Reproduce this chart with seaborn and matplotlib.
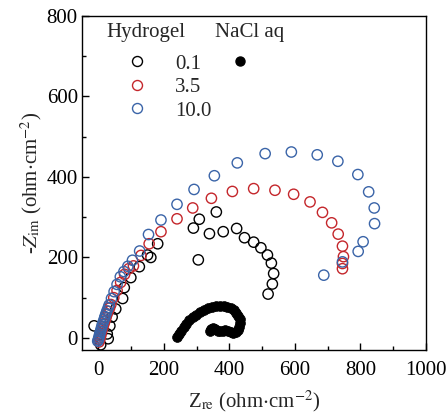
import numpy as np
import seaborn as sns
import matplotlib.pyplot as plt
from matplotlib.ticker import MultipleLocator
from matplotlib.lines import Line2D

# Nyquist data (ohm.cm^-2)
gel01_re = [-13, 7, 30, 27, 35, 42, 53, 74, 79, 99, 125, 150, 160, 181, 290, 308, 360,
            305, 339, 381, 422, 446, 474, 496, 516, 528, 535, 531, 518]
gel01_im = [30, -17, -2, 10, 30, 52, 72, 98, 125, 150, 177, 206, 200, 234, 273, 295, 313,
            194, 259, 264, 272, 249, 238, 224, 206, 186, 160, 134, 109]

gel35_re = [2, 4, 5, 7, 8, 10, 12, 14, 17, 20, 23, 26, 30, 34, 38, 47, 57, 68, 80, 93, 107,
            130, 155, 191, 240, 288, 345, 409, 474, 539, 596, 646, 684, 712, 732, 745, 748,
            745, 745]
gel35_im = [-10, -4, 0, 5, 10, 16, 22, 28, 35, 42, 50, 58, 66, 74, 83, 100, 118, 138, 158, 172, 179,
            205, 234, 264, 296, 323, 347, 364, 371, 367, 357, 338, 312, 286, 258, 228, 202,
            185, 172]

gel10_re = [-2, 0, 1, 3, 4, 6, 8, 10, 12, 15, 18, 20, 23, 26, 30, 33, 40, 48, 57, 67, 78, 90,
            104, 126, 153, 191, 240, 292, 354, 424, 509, 589, 668, 731, 792, 825, 842, 843,
            808, 793, 745, 688]
gel10_im = [-8, -5, 0, 5, 10, 15, 21, 27, 33, 40, 47, 53, 60, 67, 75, 82, 98, 115, 133, 152, 165, 178,
            193, 216, 257, 293, 332, 369, 403, 435, 458, 462, 455, 439, 406, 363, 323, 284,
            239, 215, 189, 156]

nacl_re = [240, 245, 252, 260, 268, 278, 288, 298, 310, 322, 334, 346, 358, 370, 382, 394, 404,
           413, 421, 427, 431, 432, 430, 426, 420, 412, 404, 396, 388, 380, 372, 364, 356, 350,
           344, 340]
nacl_im = [3, 10, 18, 27, 35, 44, 52, 58, 64, 70, 74, 77, 79, 80, 80, 78, 75,
           70, 63, 55, 46, 37, 28, 20, 15, 13, 15, 18, 20, 18, 17, 18, 21, 24,
           21, 18]

colors = {"0.1": "black", "3.5": "#C4262B", "10.0": "#3A64A8"}

sns.set_style("ticks")
plt.rcParams["font.family"] = ["Liberation Serif", "DejaVu Serif"]
plt.rcParams["mathtext.fontset"] = "stix"

fig = plt.figure(figsize=(4.46, 4.17), dpi=100)
ax = fig.add_axes([82 / 446, 1 - 350 / 417, 344 / 446, 334 / 417])

for lab, xs, ys in [("0.1", gel01_re, gel01_im), ("3.5", gel35_re, gel35_im),
                    ("10.0", gel10_re, gel10_im)]:
    sns.scatterplot(x=xs, y=ys, ax=ax, s=55, facecolor="none",
                    edgecolor=colors[lab], linewidth=1.0, legend=False)

sns.scatterplot(x=nacl_re, y=nacl_im, ax=ax, s=50, color="black",
                edgecolor="black", linewidth=0.5, legend=False)

ax.set_xlim(-50, 1000)
ax.set_ylim(-30, 800)
ax.xaxis.set_major_locator(MultipleLocator(200))
ax.xaxis.set_minor_locator(MultipleLocator(100))
ax.yaxis.set_major_locator(MultipleLocator(200))
ax.yaxis.set_minor_locator(MultipleLocator(100))
ax.tick_params(which="both", direction="in", labelsize=15, width=1, colors="black")
ax.tick_params(which="major", length=5)
ax.tick_params(which="minor", length=3)
ax.tick_params(axis="x", pad=8)
ax.tick_params(axis="y", pad=3)
for sp in ax.spines.values():
    sp.set_linewidth(1.0)
    sp.set_color("black")

ax.set_xlabel(r"Z$_{\mathrm{re}}$ (ohm$\cdot$cm$^{-2}$)", fontsize=15, labelpad=6)
ax.set_ylabel(r"-$\mathit{Z}_{\mathrm{im}}$ (ohm$\cdot$cm$^{-2}$)", fontsize=15, labelpad=2)

# legend headers
ax.text((106 - 82) / 344, (350 - 33) / 334, "Hydrogel", transform=ax.transAxes,
        fontsize=15, ha="left", va="center")
ax.text((215 - 82) / 344, (350 - 33) / 334, "NaCl aq", transform=ax.transAxes,
        fontsize=15, ha="left", va="center")

h_gel = [Line2D([], [], ls="none", marker="o", ms=7.2, mfc="none", mec=colors[k], mew=1.0)
         for k in ["0.1", "3.5", "10.0"]]
leg1 = ax.legend(h_gel, ["0.1", "3.5", "10.0"], loc="upper left",
                 bbox_to_anchor=((121 - 82) / 344, (350 - 54) / 334), frameon=False,
                 fontsize=15, borderpad=0, borderaxespad=0,
                 handlelength=1.5, handletextpad=1.1, labelspacing=0.19)
ax.add_artist(leg1)
h_nacl = [Line2D([], [], ls="none", marker="o", ms=6.5, mfc="black", mec="black")]
ax.legend(h_nacl, [""], loc="upper left",
          bbox_to_anchor=((224 - 82) / 344, (350 - 54) / 334), frameon=False,
          fontsize=15, borderpad=0, borderaxespad=0,
          handlelength=1.5, handletextpad=0.2)

fig.savefig("out.png", dpi=100)
